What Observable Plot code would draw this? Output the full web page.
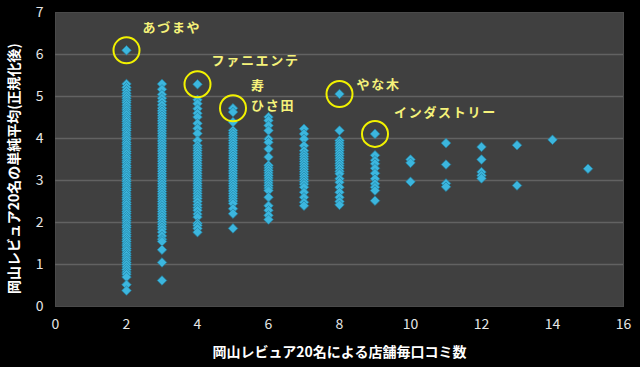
<!DOCTYPE html>
<html><head><meta charset="utf-8">
<script src="https://cdn.jsdelivr.net/npm/d3@7"></script>
<script src="https://cdn.jsdelivr.net/npm/@observablehq/plot@0.6"></script>
<style>
html,body{margin:0;padding:0;background:#000;}
#chart svg{display:block;}
</style></head>
<body><div id="chart"></div>
<script>
const xTicks = [0,2,4,6,8,10,12,14,16];
const yTicks = [0,1,2,3,4,5,6,7];
const col2 = [6.1,5.3,5.22,5.15,5.08,5.02,4.96,4.9,4.85,4.79,4.73,4.68,4.62,4.57,4.51,4.46,4.41,4.35,4.3,4.24,4.19,4.13,4.08,4.02,3.97,3.91,3.86,3.8,3.75,3.69,3.64,3.58,3.53,3.47,3.42,3.36,3.31,3.25,3.2,3.14,3.09,3.03,2.98,2.92,2.87,2.81,2.76,2.7,2.65,2.59,2.54,2.48,2.43,2.37,2.32,2.26,2.21,2.15,2.1,2.04,1.99,1.93,1.88,1.82,1.77,1.71,1.66,1.6,1.55,1.49,1.44,1.38,1.33,1.27,1.22,1.16,1.11,1.05,1.0,0.94,0.88,0.82,0.77,0.7,0.52,0.38];
const col3 = [5.3,5.17,5.05,4.96,4.88,4.8,4.72,4.66,4.6,4.54,4.48,4.42,4.36,4.3,4.24,4.18,4.12,4.06,4.0,3.94,3.88,3.82,3.76,3.7,3.64,3.58,3.52,3.46,3.4,3.34,3.28,3.22,3.16,3.1,3.04,2.98,2.92,2.86,2.8,2.74,2.68,2.62,2.56,2.5,2.44,2.38,2.32,2.26,2.2,2.14,2.08,2.02,1.96,1.9,1.84,1.77,1.68,1.6,1.55,1.35,1.05,0.62];
const col4 = [5.29,4.92,4.83,4.71,4.6,4.51,4.36,4.24,4.12,3.95,3.83,3.77,3.71,3.65,3.59,3.53,3.47,3.41,3.35,3.29,3.23,3.17,3.11,3.05,2.99,2.93,2.87,2.81,2.75,2.69,2.63,2.57,2.5,2.42,2.35,2.29,2.2,2.13,1.98,1.93,1.86,1.77];
const col5 = [4.72,4.63,4.39,4.19,4.13,4.07,4.01,3.95,3.89,3.83,3.77,3.71,3.65,3.59,3.53,3.47,3.41,3.35,3.29,3.23,3.17,3.11,3.05,2.99,2.93,2.87,2.81,2.75,2.69,2.63,2.57,2.51,2.45,2.33,2.21,1.86];
const col6 = [4.51,4.43,4.31,4.19,3.99,3.91,3.75,3.56,3.36,3.3,3.24,3.18,3.12,3.06,3.0,2.94,2.88,2.82,2.76,2.6,2.4,2.29,2.17,2.07];
const col7 = [4.23,4.11,3.99,3.83,3.71,3.63,3.57,3.51,3.45,3.39,3.33,3.27,3.21,3.15,3.09,3.03,2.97,2.91,2.84,2.72,2.6,2.48,2.4];
const col8 = [5.06,4.19,3.95,3.89,3.83,3.77,3.71,3.65,3.59,3.53,3.47,3.41,3.35,3.29,3.22,3.16,3.04,2.96,2.84,2.72,2.6,2.5,2.42];
const col9 = [4.11,3.6,3.48,3.4,3.29,3.17,3.04,2.92,2.84,2.76,2.52];
const col10 = [3.5,3.42,2.97];
const col11 = [3.89,3.38,2.93,2.85];
const col12 = [3.8,3.5,3.2,3.12,3.05];
const col13 = [3.84,2.88];
const col14 = [3.97];
const col15 = [3.28];
const columnX = [2,3,4,5,6,7,8,9,10,11,12,13,14,15];
const columns = [col2,col3,col4,col5,col6,col7,col8,col9,col10,col11,col12,col13,col14,col15];

// highlighted shops (circled)
const circleX = [2,4,5,8,9];
const circleY = [6.1,5.29,4.72,5.06,4.11];
// annotation texts, anchored to the circled point they describe
const noteNames = ["あづまや","ファニエンテ","寿","ひさ田","やな木","インダストリー"];
const noteX = [2,4,5,5,8,9];
const noteY = [6.1,5.29,4.72,4.72,5.06,4.11];
const noteDx = [16,14,18,18,17,19];
const noteDy = [-22,-23,-22,-2,-9,-21];

const points = [];
columns.forEach((col,i)=>col.forEach(v=>points.push({x:columnX[i], y:v})));
const circles = circleX.map((x,i)=>({x, y:circleY[i]}));
const notes = noteNames.map((n,i)=>({name:n, x:noteX[i], y:noteY[i], dx:noteDx[i], dy:noteDy[i]}));

const font = "'Noto Sans CJK JP', 'Noto Sans', sans-serif";
const chart = Plot.plot({
  width: 640, height: 367,
  marginLeft: 55, marginRight: 17, marginTop: 12, marginBottom: 61,
  style: {background: "#000", color: "#e6e6e6", fontFamily: font, fontSize: "14px"},
  x: {domain: [0,16], ticks: xTicks},
  y: {domain: [0,7], ticks: yTicks},
  marks: [
    Plot.frame({fill: "#404040", stroke: "#4a4a4a"}),
    Plot.gridY([1,2,3,4,5,6], {stroke: "#626262", strokeOpacity: 1, strokeWidth: 1.5}),
    Plot.axisX({ticks: xTicks, tickSize: 0, tickPadding: 13, fontSize: 14, fill: "#e6e6e6", tickFormat: "d",
      label: "岡山レビュア20名による店舗毎口コミ数", labelAnchor: "center", labelOffset: 50, labelArrow: "none"}),
    Plot.axisY({ticks: yTicks, tickSize: 0, tickPadding: 12, fontSize: 14, fill: "#e6e6e6", tickFormat: "d",
      label: "岡山レビュア20名の単純平均(正規化後)", labelAnchor: "center", labelOffset: 46, labelArrow: "none"}),
    Plot.dot(points, {x: "x", y: "y", symbol: "diamond2", r: 4.3, fill: "#3cb6de", stroke: "#23809f", strokeWidth: 0.7}),
    Plot.dot(circles, {x: "x", y: "y", r: 13, stroke: "#f2f200", strokeWidth: 2, fill: "none"}),
    ...notes.map(n => Plot.text([n], {x: "x", y: "y", text: "name", dx: n.dx, dy: n.dy, textAnchor: "start",
      fill: "#f5f27a", fontSize: 13, fontWeight: "bold", fontFamily: font}))
  ]
});
chart.querySelectorAll("g[aria-label='x-axis label'] text, g[aria-label='y-axis label'] text").forEach(t=>{
  t.setAttribute("font-weight","bold"); t.setAttribute("fill","#ffffff");
});
const yl = chart.querySelector("g[aria-label='y-axis label']");
if (yl) yl.setAttribute("transform", (yl.getAttribute("transform") || "") + " translate(0,9)");
chart.querySelectorAll("g[aria-label='text'] text").forEach(t=>{
  t.setAttribute("letter-spacing","1.7");
});
document.getElementById("chart").appendChild(chart);
</script></body></html>
